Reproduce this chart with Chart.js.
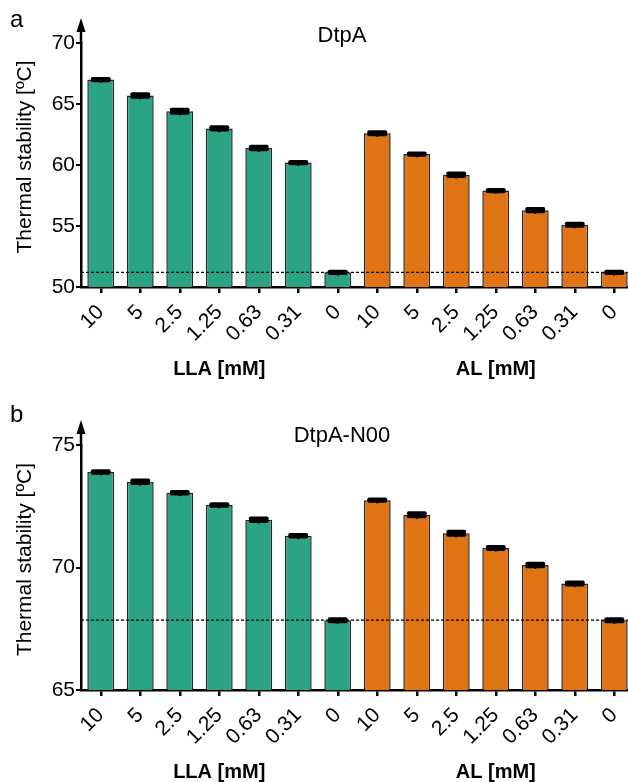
<!DOCTYPE html>
<html>
<head>
<meta charset="utf-8">
<script src="https://cdn.jsdelivr.net/npm/chart.js@4.4.1/dist/chart.umd.min.js"></script>
<style>
  html, body { margin: 0; padding: 0; background: #fff; overflow: hidden; }
  canvas { display: block; }
</style>
</head>
<body>
<canvas id="chartA" width="634" height="391"></canvas>
<canvas id="chartB" width="634" height="391"></canvas>
<script>
// concentrations, same for both groups
const concentrations = ['10', '5', '2.5', '1.25', '0.63', '0.31', '0'];
const groupNames = ['LLA [mM]', 'AL [mM]'];

// panel a: DtpA
const dtpaLLA = [67.0, 65.7, 64.4, 63.0, 61.4, 60.2, 51.2];
const dtpaAL = [62.6, 60.9, 59.2, 57.9, 56.3, 55.1, 51.2];
const dtpaLLAErr = [0.05, 0.1, 0.12, 0.1, 0.1, 0.05, 0.06];
const dtpaALErr = [0.08, 0.05, 0.1, 0.06, 0.1, 0.08, 0.05];
const dtpaTicks = [50, 55, 60, 65, 70];

// panel b: DtpA-N00
const n00LLA = [73.9, 73.5, 73.05, 72.55, 71.95, 71.3, 67.85];
const n00AL = [72.75, 72.15, 71.4, 70.8, 70.1, 69.35, 67.85];
const n00LLAErr = [0.03, 0.05, 0.03, 0.03, 0.05, 0.03, 0.04];
const n00ALErr = [0.03, 0.06, 0.06, 0.04, 0.05, 0.04, 0.04];
const n00Ticks = [65, 70, 75];

const GREEN = '#2ba484';
const ORANGE = '#e07314';
const FONT = '"Liberation Sans", Arial, Helvetica, sans-serif';

// error bars, reference dashed line, y arrow, titles
const extras = {
  id: 'extras',
  afterDatasetsDraw(chart, args, o) {
    const ctx = chart.ctx;
    const x = chart.scales.x, y = chart.scales.y;
    const area = chart.chartArea;
    const meta = chart.getDatasetMeta(0);
    const vals = chart.data.datasets[0].data;

    // dashed line at the control (0 mM) value
    const yRef = y.getPixelForValue(o.refValue);
    ctx.save();
    ctx.strokeStyle = '#000';
    ctx.lineWidth = 1.2;
    ctx.setLineDash([3, 2]);
    ctx.beginPath();
    ctx.moveTo(area.left, yRef);
    ctx.lineTo(area.right, yRef);
    ctx.stroke();
    ctx.restore();

    // error bars
    ctx.save();
    ctx.strokeStyle = '#000';
    ctx.lineCap = 'round';
    meta.data.forEach((bar, i) => {
      const v = vals[i], e = o.errors[i];
      const yt = y.getPixelForValue(v + e), yb = y.getPixelForValue(v - e);
      ctx.lineWidth = 2.5;
      ctx.beginPath();
      ctx.moveTo(bar.x, yt);
      ctx.lineTo(bar.x, yb + 1.5);
      ctx.stroke();
      ctx.lineWidth = 4;
      [yt, yb].forEach(yy => {
        ctx.beginPath();
        ctx.moveTo(bar.x - 8, yy);
        ctx.lineTo(bar.x + 8, yy);
        ctx.stroke();
      });
    });
    ctx.restore();

    // y axis extension with arrow
    const ax = area.left;
    ctx.save();
    ctx.strokeStyle = '#000';
    ctx.fillStyle = '#000';
    ctx.lineWidth = 2.5;
    ctx.beginPath();
    ctx.moveTo(ax, area.top + 1);
    ctx.lineTo(ax, area.top - 14);
    ctx.stroke();
    ctx.beginPath();
    ctx.moveTo(ax, area.top - 25);
    ctx.lineTo(ax - 4.5, area.top - 11);
    ctx.lineTo(ax + 4.5, area.top - 11);
    ctx.closePath();
    ctx.fill();

    // titles and labels
    ctx.textAlign = 'center';
    ctx.textBaseline = 'middle';
    ctx.font = '22px ' + FONT;
    ctx.fillText(o.title, 342, area.top + o.titleDy);

    ctx.textAlign = 'left';
    ctx.textBaseline = 'alphabetic';
    ctx.font = '24px ' + FONT;
    ctx.fillText(o.panel, 10, o.panelY);

    ctx.font = 'bold 20px ' + FONT;
    ctx.textAlign = 'center';
    ctx.textBaseline = 'middle';
    const yGroup = area.bottom + 82;
    ctx.fillText(groupNames[0], x.getPixelForValue(3), yGroup);
    ctx.fillText(groupNames[1], x.getPixelForValue(10), yGroup);

    ctx.save();
    ctx.translate(25, (area.top + area.bottom) / 2 - 8);
    ctx.rotate(-Math.PI / 2);
    ctx.font = '21px ' + FONT;
    ctx.fillText('Thermal stability [ºC]', 0, 0);
    ctx.restore();
    ctx.restore();
  }
};

function makeChart(id, lla, al, llaErr, alErr, ticks, cfg) {
  const labels = concentrations.concat(concentrations);
  const colors = concentrations.map(() => GREEN).concat(concentrations.map(() => ORANGE));
  return new Chart(document.getElementById(id), {
    type: 'bar',
    data: {
      labels: labels,
      datasets: [{
        data: lla.concat(al),
        backgroundColor: colors,
        borderColor: '#262626',
        borderWidth: 1.5,
        barPercentage: 0.68,
        categoryPercentage: 1.0
      }]
    },
    options: {
      responsive: false,
      animation: false,
      devicePixelRatio: 1,
      layout: { padding: { top: cfg.top, left: 0, right: 0, bottom: 0 } },
      plugins: {
        legend: { display: false },
        tooltip: { enabled: false },
        extras: {
          refValue: lla[6],
          errors: llaErr.concat(alErr),
          title: cfg.title,
          titleDy: cfg.titleDy,
          panel: cfg.panel,
          panelY: cfg.panelY
        }
      },
      scales: {
        x: {
          offset: true,
          grid: { drawOnChartArea: false, drawTicks: true, tickLength: 6, color: '#000', lineWidth: 2.5, offset: false },
          border: { display: true, color: '#000', width: 2.5 },
          ticks: { color: '#000', font: { family: FONT, size: 21 }, minRotation: 45, maxRotation: 45, autoSkip: false, padding: 7 },
          afterFit: s => { s.height = cfg.xHeight; s.paddingLeft = 0; s.paddingRight = 0; }
        },
        y: {
          min: ticks[0],
          max: ticks[ticks.length - 1],
          afterBuildTicks: s => { s.ticks = ticks.map(v => ({ value: v })); },
          grid: { drawOnChartArea: false, drawTicks: true, tickLength: 5, color: '#000', lineWidth: 2 },
          border: { display: true, color: '#000', width: 2.5 },
          ticks: { color: '#000', font: { family: FONT, size: 21 }, padding: 1 },
          afterFit: s => { s.width = 81; s.paddingTop = 0; s.paddingBottom = 0; }
        }
      }
    },
    plugins: [extras]
  });
}

makeChart('chartA', dtpaLLA, dtpaAL, dtpaLLAErr, dtpaALErr, dtpaTicks,
  { top: 43, xHeight: 104, title: 'DtpA', titleDy: -7, panel: 'a', panelY: 27 });
makeChart('chartB', n00LLA, n00AL, n00LLAErr, n00ALErr, n00Ticks,
  { top: 54, xHeight: 92, title: 'DtpA-N00', titleDy: -9, panel: 'b', panelY: 31 });
</script>
</body>
</html>
